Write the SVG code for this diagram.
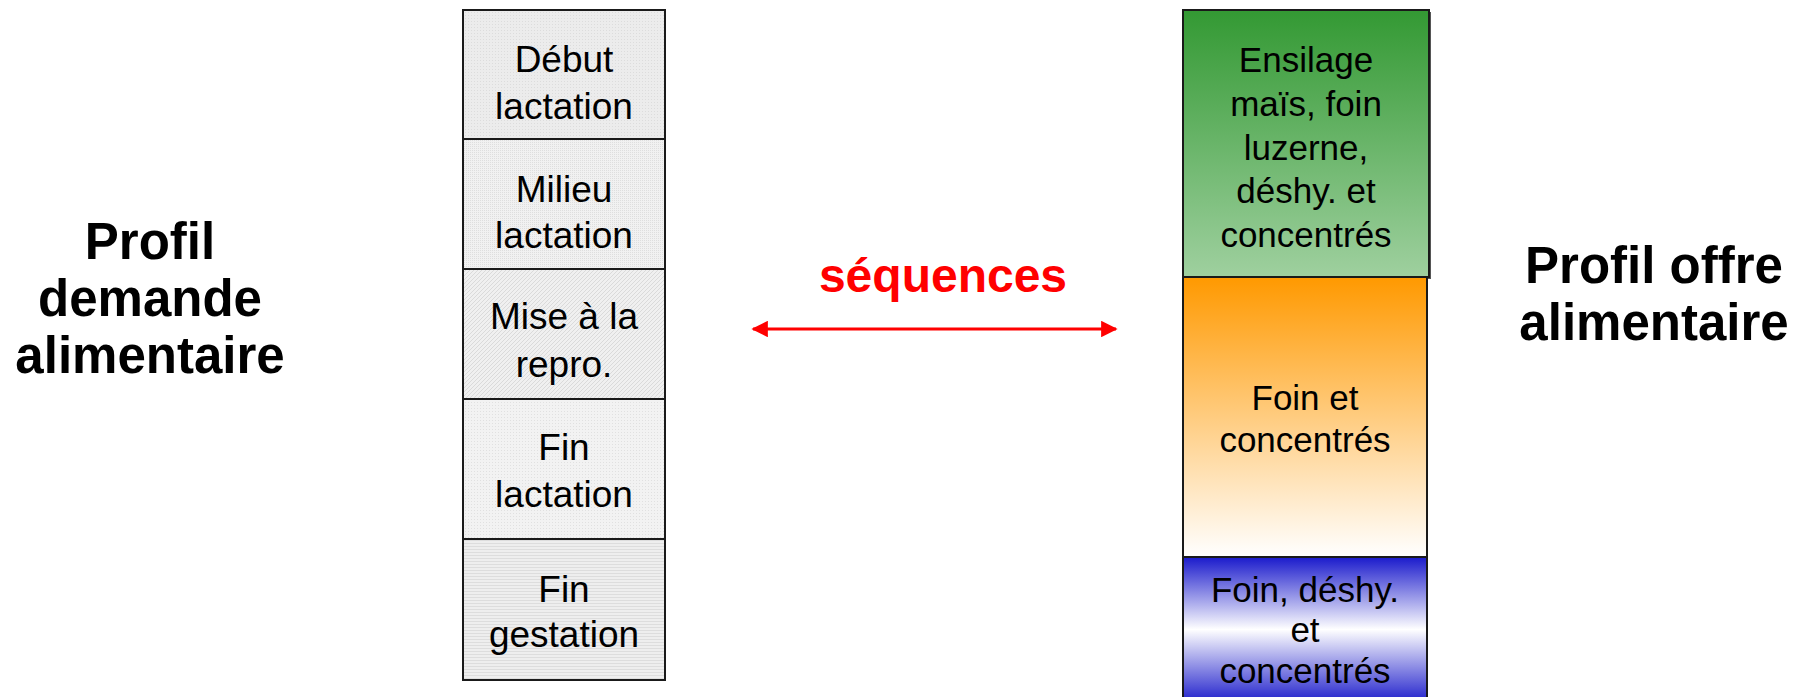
<svg xmlns="http://www.w3.org/2000/svg" width="1808" height="697" viewBox="0 0 1808 697">
<style>
.cell{stroke:#1a1a1a;stroke-width:2}
.t{font-family:"Liberation Sans",Arial,sans-serif;font-size:37px;fill:#000;text-anchor:middle}
.r{font-family:"Liberation Sans",Arial,sans-serif;font-size:35px;fill:#000;text-anchor:middle}
.h{font-family:"Liberation Sans",Arial,sans-serif;font-size:51px;font-weight:bold;fill:#000;text-anchor:middle}
.s{font-family:"Liberation Sans",Arial,sans-serif;font-size:48px;font-weight:bold;fill:#ff0000;text-anchor:middle}
</style>
<defs>
<pattern id="p1" width="3" height="3" patternUnits="userSpaceOnUse"><rect width="3" height="3" fill="#ececec"/><rect width="1" height="1" fill="#dcdcdc"/></pattern>
<pattern id="p2" width="2" height="2" patternUnits="userSpaceOnUse"><rect width="2" height="2" fill="#f1f1f1"/><rect width="1" height="1" fill="#dedede"/></pattern>
<pattern id="p3" width="4" height="4" patternUnits="userSpaceOnUse"><rect width="4" height="4" fill="#f0f0f0"/><path d="M0,4 L4,0" stroke="#dadada" stroke-width="1"/></pattern>
<pattern id="p4" width="3" height="3" patternUnits="userSpaceOnUse"><rect width="3" height="3" fill="#f2f2f2"/><rect width="1" height="1" fill="#e0e0e0"/></pattern>
<pattern id="p5" width="3" height="3" patternUnits="userSpaceOnUse"><rect width="3" height="3" fill="#eeeeee"/><rect width="3" height="1" fill="#dddddd"/></pattern>
<linearGradient id="gGreen" x1="0" y1="0" x2="0" y2="1"><stop offset="0" stop-color="#339933"/><stop offset="1" stop-color="#9fd09f"/></linearGradient>
<linearGradient id="gOrange" x1="0" y1="0" x2="0" y2="1"><stop offset="0" stop-color="#ff9900"/><stop offset="1" stop-color="#ffffff"/></linearGradient>
<linearGradient id="gBlue" x1="0" y1="0" x2="0" y2="1"><stop offset="0" stop-color="#1a1acc"/><stop offset="0.5" stop-color="#ffffff"/><stop offset="1" stop-color="#2222cc"/></linearGradient>
<marker id="ah" viewBox="0 0 10 10" refX="9" refY="5" markerWidth="6" markerHeight="5.5" orient="auto-start-reverse" markerUnits="strokeWidth"><path d="M0,0 L10,5 L0,10 Z" fill="#ff0000"/></marker>
</defs>
<g id="titles">
<g id="demande-title"><text class="h" x="150" y="259">Profil</text><text class="h" x="150" y="316">demande</text><text class="h" x="150" y="373">alimentaire</text></g>
<g id="offre-title"><text class="h" x="1654" y="283">Profil offre</text><text class="h" x="1654" y="340">alimentaire</text></g>
</g>
<g id="demande">
<g id="debut"><rect class="cell" x="463" y="10" width="202" height="129" fill="url(#p1)"/><text class="t" x="564" y="72">Début</text><text class="t" x="564" y="119">lactation</text></g>
<g id="milieu"><rect class="cell" x="463" y="139" width="202" height="130" fill="url(#p2)"/><text class="t" x="564" y="202">Milieu</text><text class="t" x="564" y="248">lactation</text></g>
<g id="mise"><rect class="cell" x="463" y="269" width="202" height="130" fill="url(#p3)"/><text class="t" x="564" y="329">Mise à la</text><text class="t" x="564" y="377">repro.</text></g>
<g id="finlact"><rect class="cell" x="463" y="399" width="202" height="140" fill="url(#p4)"/><text class="t" x="564" y="460">Fin</text><text class="t" x="564" y="507">lactation</text></g>
<g id="fingest"><rect class="cell" x="463" y="539" width="202" height="141" fill="url(#p5)"/><text class="t" x="564" y="602">Fin</text><text class="t" x="564" y="647">gestation</text></g>
</g>
<g id="offre">
<g id="ensilage"><rect x="1185" y="12" width="246" height="267" fill="#555"/><rect class="cell" x="1183" y="10" width="246" height="267" fill="url(#gGreen)"/><text class="r" x="1306" y="72">Ensilage</text><text class="r" x="1306" y="116">maïs, foin</text><text class="r" x="1306" y="160">luzerne,</text><text class="r" x="1306" y="203">déshy. et</text><text class="r" x="1306" y="247">concentrés</text></g>
<g id="foin"><rect class="cell" x="1183" y="277" width="244" height="280" fill="url(#gOrange)"/><text class="r" x="1305" y="410">Foin et</text><text class="r" x="1305" y="452">concentrés</text></g>
<g id="foindeshy"><rect class="cell" x="1183" y="557" width="244" height="145" fill="url(#gBlue)"/><text class="r" x="1305" y="602">Foin, déshy.</text><text class="r" x="1305" y="642">et</text><text class="r" x="1305" y="683">concentrés</text></g>
</g>
<g id="connectors">
<text class="s" x="943" y="292">séquences</text>
<line x1="753" y1="329" x2="1116" y2="329" stroke="#ff0000" stroke-width="3" marker-start="url(#ah)" marker-end="url(#ah)"/>
</g>
</svg>
